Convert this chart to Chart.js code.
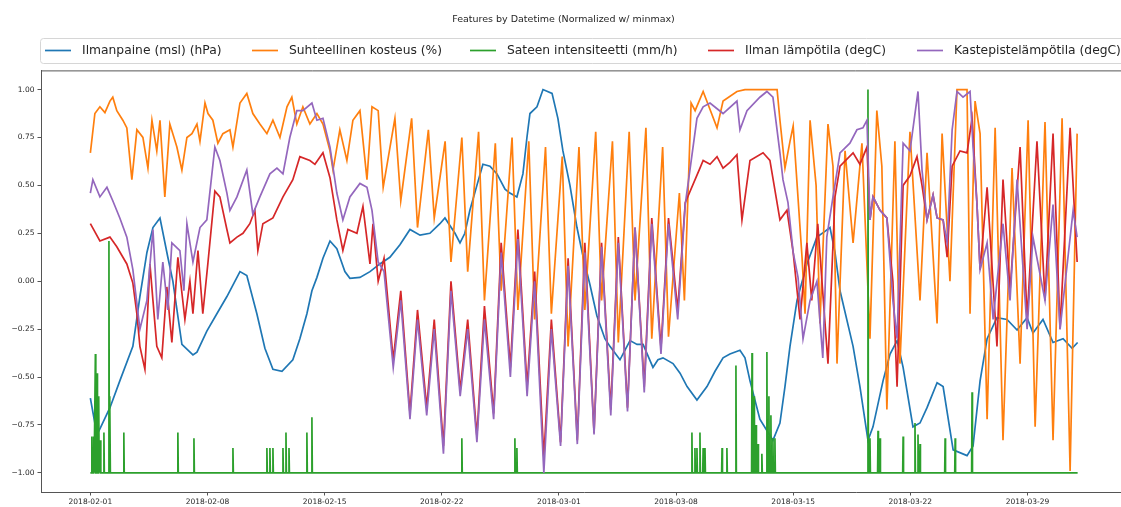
<!DOCTYPE html>
<html>
<head>
<meta charset="utf-8">
<script src="https://cdn.jsdelivr.net/npm/chart.js@4.4.1/dist/chart.umd.min.js"></script>
<style>
  html, body { margin: 0; padding: 0; background: #fff; overflow: hidden; }
  #wrap { width: 1121px; height: 507px; overflow: hidden; }
</style>
</head>
<body>
<div id="wrap"><canvas id="myChart1" width="1140" height="507"></canvas></div>
<script>
// days counted from 2018-02-01 00:00
let tickDays = [0, 7, 14, 21, 28, 35, 42, 49, 56];
let tickLabels = ['2018-02-01', '2018-02-08', '2018-02-15', '2018-02-22', '2018-03-01', '2018-03-08', '2018-03-15', '2018-03-22', '2018-03-29'];
let yTicks = [-1, -0.75, -0.5, -0.25, 0, 0.25, 0.5, 0.75, 1];
let labels = ['Ilmanpaine (msl) (hPa)', 'Suhteellinen kosteus (%)', 'Sateen intensiteetti (mm/h)', 'Ilman lämpötila (degC)', 'Kastepistelämpötila (degC)'];
let colorHex = ['#1f77b4', '#ff7f0e', '#2ca02c', '#d62728', '#9467bd'];

let pressureDays = [0, 0.39, 0.57, 1.17, 1.76, 2.54, 2.96, 3.38, 3.74, 4.16,
  4.63, 4.93, 5.47, 6.13, 6.37, 6.96, 7.56, 8.16, 8.94, 9.35,
  9.95, 10.43, 10.91, 11.45, 12.10, 12.52, 12.94, 13.24, 13.54, 13.9,
  14.32, 14.73, 14.91, 15.21, 15.51, 16.11, 16.71, 17.30, 17.90, 18.50,
  19.10, 19.70, 20.29, 20.89, 21.19, 21.79, 22.09, 22.38, 22.68, 23.10,
  23.46, 23.88, 24.30, 24.78, 25.07, 25.49, 25.85, 26.09, 26.27, 26.69,
  27.05, 27.59, 27.94, 28.24, 28.66, 29.08, 29.44, 29.86, 30.27, 30.75,
  31.05, 31.65, 31.95, 32.25, 32.67, 33.03, 33.62, 33.92, 34.22, 34.82,
  35.24, 35.66, 36.25, 36.85, 37.33, 37.81, 38.22, 38.82, 39.12, 39.42,
  40.01, 40.79, 41.21, 41.51, 41.81, 42.23, 42.82, 43.42, 43.90, 44.2,
  44.5, 44.8, 45.58, 45.99, 46.47, 46.77, 47.37, 47.79, 48.21, 48.57,
  49.16, 49.58, 50.0, 50.6, 50.96, 51.56, 52.39, 52.75, 53.17, 53.59,
  54.18, 54.78, 55.38, 55.98, 56.33, 56.93, 57.53, 58.13, 58.67, 59.0];
let pressureValues = [-0.61, -0.80, -0.77, -0.66, -0.52, -0.34, -0.08, 0.15, 0.28, 0.33,
  0.125, 0.0, -0.33, -0.385, -0.37, -0.26, -0.17, -0.08, 0.05, 0.03,
  -0.17, -0.35, -0.46, -0.47, -0.41, -0.30, -0.17, -0.05, 0.02, 0.12,
  0.21, 0.17, 0.125, 0.05, 0.015, 0.02, 0.05, 0.09, 0.125, 0.19,
  0.27, 0.24, 0.25, 0.30, 0.33, 0.25, 0.20, 0.25, 0.37, 0.50,
  0.61, 0.60, 0.56, 0.48, 0.46, 0.44, 0.56, 0.75, 0.875, 0.91,
  1.0, 0.98, 0.85, 0.68, 0.50, 0.28, 0.13, -0.02, -0.18, -0.30,
  -0.34, -0.41, -0.36, -0.31, -0.33, -0.33, -0.45, -0.41, -0.40, -0.43,
  -0.48, -0.55, -0.62, -0.55, -0.47, -0.40, -0.38, -0.36, -0.40, -0.52,
  -0.72, -0.83, -0.74, -0.55, -0.34, -0.10, 0.09, 0.23, 0.26, 0.28,
  0.15, -0.05, -0.34, -0.55, -0.83, -0.76, -0.52, -0.38, -0.31, -0.45,
  -0.76, -0.74, -0.66, -0.53, -0.55, -0.88, -0.91, -0.86, -0.52, -0.30,
  -0.19, -0.20, -0.255, -0.19, -0.27, -0.20, -0.32, -0.30, -0.35, -0.32];

let humidityDays = [0, 0.27, 0.57, 0.87, 1.17, 1.34, 1.58, 1.94, 2.18, 2.48, 2.78, 3.14, 3.44, 3.68, 3.97, 4.16, 4.45, 4.75,
  5.17, 5.47, 5.77, 6.07, 6.37, 6.55, 6.85, 7.03, 7.32, 7.62, 7.92, 8.34, 8.52, 8.94, 9.35, 9.71, 10.13, 10.55,
  10.91, 11.33, 11.75, 12.04, 12.34, 12.70, 13.12, 13.54, 13.9, 14.32, 14.5, 14.91, 15.33, 15.69, 16.11, 16.53, 16.83,
  17.2, 17.5, 18.2, 18.55, 19.2, 19.55, 20.2, 20.55, 21.2, 21.55, 22.2, 22.55, 23.2, 23.55, 24.2, 24.55, 25.2, 25.55,
  26.2, 26.55, 27.2, 27.55, 28.2, 28.55, 29.2, 29.55, 30.2, 30.55, 31.2, 31.55, 32.2, 32.55, 33.2, 33.55, 34.2, 34.55,
  35.2, 35.5, 35.9,
  36.14, 36.62, 37.45, 37.81, 38.64, 39.12, 41.04, 41.21, 41.51, 41.81, 42.0, 42.53, 42.71, 43.01, 43.37, 43.6,
  44.08, 44.38, 44.62, 45.1, 45.58, 46.11, 46.59, 47.0, 47.3, 47.6, 48.08, 48.38, 48.98, 49.58, 50.0, 50.6, 50.9,
  51.37, 51.79, 52.39, 52.57, 52.87, 53.17, 53.59, 54.07, 54.54, 55.08, 55.56, 56.04, 56.46, 57.05, 57.53, 58.07,
  58.55, 58.97];
let humidityValues = [0.67, 0.875, 0.91, 0.88, 0.94, 0.96, 0.89, 0.84, 0.80, 0.53, 0.79, 0.75, 0.59, 0.84, 0.68, 0.84, 0.44, 0.82,
  0.70, 0.58, 0.75, 0.77, 0.82, 0.73, 0.93, 0.875, 0.84, 0.72, 0.77, 0.79, 0.70, 0.93, 0.98, 0.875, 0.82, 0.77,
  0.84, 0.75, 0.91, 0.96, 0.82, 0.91, 0.82, 0.875, 0.82, 0.68, 0.58, 0.79, 0.63, 0.84, 0.89, 0.53, 0.91,
  0.89, 0.49, 0.85, 0.42, 0.85, 0.28, 0.79, 0.33, 0.73, 0.1, 0.75, 0.05, 0.78, -0.1, 0.72, -0.05, 0.75, -0.15,
  0.73, -0.2, 0.70, -0.17, 0.65, -0.34, 0.70, -0.15, 0.78, -0.1, 0.73, -0.32, 0.78, -0.1, 0.80, -0.3, 0.70, -0.29,
  0.46, -0.1, 0.93,
  0.89, 0.99, 0.80, 0.94, 0.99, 1.0, 1.0, 0.84, 0.59, 0.73, 0.81, 0.125, -0.17, 0.84, 0.5, -0.22,
  0.82, 0.6, -0.43, 0.68, 0.2, 0.72, -0.3, 0.89, 0.6, -0.67, 0.73, -0.43, 0.78, -0.1, 0.67, -0.22, 0.77,
  0.0, 1.0, 1.0, -0.17, 0.94, 0.77, -0.72, 0.80, -0.83, 0.59, -0.43, 0.84, -0.76, 0.83, -0.83, 0.85,
  -0.99, 0.77];

let rainDays = [0.09, 0.2, 0.3, 0.4, 0.5, 0.6, 0.81, 1.11, 1.17, 2.0, 5.23, 6.19, 8.52, 10.55, 10.73, 10.91, 11.51, 11.69,
  11.87, 12.94, 13.24, 22.2, 25.37, 25.49, 35.95, 36.13, 36.25, 36.43, 36.62, 36.73, 37.75, 38.04, 38.58, 39.54,
  39.66, 39.78, 39.9, 40.13, 40.43, 40.55, 40.67, 40.79, 40.91, 46.47, 46.59, 47.07, 47.19, 48.57, 49.28, 49.46,
  49.58, 51.08, 51.68, 52.69];
let rainValues = [-0.81, -0.81, -0.38, -0.48, -0.6, -0.83, -0.79, 0.21, -0.6, -0.79, -0.79, -0.82, -0.87, -0.87, -0.87, -0.87, -0.87, -0.79,
  -0.87, -0.79, -0.71, -0.82, -0.82, -0.87, -0.79, -0.87, -0.87, -0.79, -0.87, -0.87, -0.87, -0.87, -0.44, -0.375,
  -0.6, -0.75, -0.85, -0.9, -0.37, -0.6, -0.7, -0.82, -0.82, 1.0, -0.82, -0.78, -0.82, -0.81, -0.74, -0.8,
  -0.85, -0.82, -0.82, -0.58];

let tempDays = [0, 0.57, 1.17, 1.58, 2.18, 2.54, 2.78, 2.96, 3.26, 3.56, 3.74, 3.97, 4.27, 4.57, 4.87, 5.23, 5.65, 5.95,
  6.13, 6.43, 6.72, 7.02, 7.44, 7.74, 8.16, 8.34, 8.76, 9.12, 9.53, 9.83, 10.01, 10.31, 10.91, 11.51, 12.10, 12.52,
  13.12, 13.42, 13.9, 14.32, 14.73, 15.09, 15.39, 15.93, 16.29, 16.71, 16.89,
  17.2, 17.55, 18.1, 18.55, 19.1, 19.55, 20.1, 20.55, 21.1, 21.55, 22.1, 22.55, 23.1, 23.55, 24.1, 24.55, 25.1, 25.55,
  26.1, 26.55, 27.1, 27.55, 28.1, 28.55, 29.1, 29.55, 30.1, 30.55, 31.1, 31.55, 32.1, 32.55, 33.1, 33.55, 34.1, 34.55,
  35.1, 35.55,
  36.43, 36.62, 37.03, 37.45, 37.81, 38.22, 38.64, 38.94, 39.42, 40.2, 40.61, 41.21, 41.63, 42.0, 42.41, 42.82, 43.11,
  43.47, 44.08, 44.5, 44.8, 45.58, 45.99, 46.41, 46.59, 46.77, 47.19, 47.6, 47.96, 48.21, 48.57, 48.98, 49.4, 49.7,
  50.0, 50.36, 50.6, 50.96, 51.2, 51.5, 51.97, 52.39, 52.69, 52.98, 53.17, 53.59, 54.18, 54.54, 54.96, 55.56, 55.98,
  56.57, 57.05, 57.53, 57.95, 58.55, 58.97];
let tempValues = [0.30, 0.21, 0.23, 0.18, 0.09, -0.01, -0.17, -0.34, -0.46, 0.09, -0.10, -0.34, -0.40, -0.03, -0.32, 0.125, -0.20, 0.0,
  -0.17, 0.16, -0.17, 0.09, 0.47, 0.44, 0.27, 0.20, 0.23, 0.25, 0.30, 0.37, 0.16, 0.30, 0.33, 0.44, 0.53, 0.65,
  0.63, 0.61, 0.67, 0.54, 0.32, 0.16, 0.27, 0.25, 0.39, 0.09, 0.30,
  0.0, 0.12, -0.41, -0.05, -0.69, -0.15, -0.66, -0.2, -0.86, 0.0, -0.57, -0.2, -0.81, -0.13, -0.69, 0.2, -0.45, 0.27,
  -0.55, 0.05, -0.92, -0.2, -0.84, 0.12, -0.83, 0.2, -0.79, 0.2, -0.67, 0.23, -0.66, 0.28, -0.55, 0.33, -0.35, 0.33,
  -0.15, 0.41,
  0.59, 0.63, 0.61, 0.65, 0.59, 0.62, 0.66, 0.32, 0.63, 0.67, 0.63, 0.32, 0.37, 0.15, -0.20, 0.2, -0.1,
  0.3, -0.43, 0.44, 0.6, 0.67, 0.61, 0.70, 0.32, 0.44, 0.37, 0.33, 0.0, -0.55, 0.5, 0.55, 0.65, 0.5,
  0.32, 0.45, 0.33, 0.32, 0.125, 0.6, 0.68, 0.67, 0.85, 0.41, 0.06, 0.49, -0.34, 0.53, -0.05, 0.70, -0.2,
  0.73, -0.1, 0.77, -0.25, 0.80, 0.1];

let dewDays = [0, 0.15, 0.57, 0.99, 1.34, 1.76, 2.18, 2.54, 2.96, 3.38, 3.74, 4.03, 4.33, 4.63, 4.87, 5.35, 5.59, 5.77,
  6.13, 6.55, 6.96, 7.44, 7.74, 8.16, 8.34, 8.76, 9.35, 9.71, 10.13, 10.73, 11.15, 11.51, 11.92, 12.34, 12.70, 13.24,
  13.54, 13.9, 14.32, 14.73, 15.09, 15.51, 16.11, 16.53, 16.83,
  17.2, 17.55, 18.1, 18.55, 19.1, 19.55, 20.1, 20.55, 21.1, 21.55, 22.1, 22.55, 23.1, 23.55, 24.1, 24.55, 25.1, 25.55,
  26.1, 26.55, 27.1, 27.55, 28.1, 28.55, 29.1, 29.55, 30.1, 30.55, 31.1, 31.55, 32.1, 32.55, 33.1, 33.55, 34.1, 34.55,
  35.1, 35.55,
  36.25, 36.62, 37.03, 37.81, 38.64, 38.82, 39.24, 40.01, 40.43, 40.79, 41.21, 41.39, 41.69, 42.0, 42.29, 42.59, 43.01,
  43.42, 43.77, 44.01, 44.38, 44.8, 45.39, 45.81, 46.17, 46.41, 46.59, 46.77, 47.19, 47.6, 47.96, 48.21, 48.57, 48.98,
  49.46, 49.7, 50.0, 50.36, 50.6, 50.96, 51.2, 51.5, 51.79, 52.15, 52.57, 52.75, 52.98, 53.17, 53.59, 53.95, 54.54,
  54.96, 55.38, 55.98, 56.33, 57.05, 57.53, 57.95, 58.73, 58.97];
let dewValues = [0.46, 0.53, 0.44, 0.49, 0.42, 0.33, 0.23, 0.06, -0.25, -0.10, 0.27, -0.2, 0.1, -0.15, 0.20, 0.16, -0.05, 0.30,
  0.10, 0.28, 0.32, 0.70, 0.63, 0.46, 0.37, 0.44, 0.58, 0.35, 0.44, 0.56, 0.59, 0.56, 0.75, 0.89, 0.89, 0.93,
  0.84, 0.85, 0.70, 0.46, 0.32, 0.44, 0.51, 0.49, 0.37,
  0.1, 0.05, -0.45, -0.1, -0.72, -0.2, -0.7, -0.25, -0.9, -0.05, -0.6, -0.25, -0.84, -0.2, -0.72, 0.15, -0.5, 0.22,
  -0.6, 0.0, -1.0, -0.25, -0.86, 0.08, -0.85, 0.15, -0.8, 0.18, -0.7, 0.2, -0.68, 0.28, -0.58, 0.3, -0.38, 0.3,
  -0.2, 0.4,
  0.85, 0.91, 0.93, 0.875, 0.94, 0.79, 0.89, 0.96, 0.99, 0.96, 0.67, 0.53, 0.41, 0.15, 0.02, -0.3, -0.1,
  0.0, -0.4, 0.23, 0.44, 0.67, 0.72, 0.79, 0.80, 0.84, 0.32, 0.44, 0.37, 0.33, -0.1, -0.3, 0.72, 0.68,
  0.99, 0.58, 0.32, 0.45, 0.33, 0.32, 0.2, 0.79, 0.99, 0.96, 0.99, 0.7, 0.41, 0.06, 0.2, -0.2, 0.3,
  -0.1, 0.53, -0.25, 0.23, -0.1, 0.4, -0.25, 0.37, 0.23];

function toPoints(days, values) {
  let n = Math.min(days.length, values.length);
  let pts = [];
  for (let i = 0; i < n; i++) pts.push({x: days[i], y: values[i]});
  return pts;
}

// rain is zero (-1 after scaling) between the showers
function spikePoints(days, values) {
  let pts = [{x: 0, y: -1}];
  for (let i = 0; i < days.length; i++) {
    pts.push({x: days[i] - 0.025, y: -1}, {x: days[i], y: values[i]}, {x: days[i] + 0.025, y: -1});
  }
  pts.push({x: 59, y: -1});
  return pts;
}

const FONT = "'DejaVu Sans', sans-serif";

const legendBox = {
  id: 'legendBox',
  afterDraw(chart) {
    const c = chart.ctx;
    const starts = [45, 252, 470, 708, 917];
    c.save();
    c.beginPath();
    c.roundRect(40.5, 38.5, 1120, 25, 3);
    c.fillStyle = 'rgba(255,255,255,0.8)';
    c.fill();
    c.strokeStyle = '#d6d6d6';
    c.lineWidth = 1;
    c.stroke();
    c.font = '12.3px ' + FONT;
    c.textBaseline = 'middle';
    labels.forEach((lab, i) => {
      c.strokeStyle = colorHex[i];
      c.lineWidth = 1.7;
      c.beginPath();
      c.moveTo(starts[i], 50.5);
      c.lineTo(starts[i] + 26, 50.5);
      c.stroke();
      c.fillStyle = '#262626';
      c.fillText(lab, starts[i] + 37, 51);
    });
    c.restore();
  }
};

const topSpine = {
  id: 'topSpine',
  afterDraw(chart) {
    const a = chart.chartArea, c = chart.ctx;
    c.save();
    c.strokeStyle = '#555';
    c.lineWidth = 1;
    c.beginPath();
    c.moveTo(a.left, a.top + 0.5);
    c.lineTo(a.right, a.top + 0.5);
    c.stroke();
    c.restore();
  }
};

const series = [
  toPoints(pressureDays, pressureValues),
  toPoints(humidityDays, humidityValues),
  spikePoints(rainDays, rainValues),
  toPoints(tempDays, tempValues),
  toPoints(dewDays, dewValues)
];

let ctx = document.getElementById('myChart1').getContext('2d');

let myChart1 = new Chart(ctx, {
  type: 'line',
  data: {
    datasets: series.map((pts, i) => ({
      label: labels[i],
      data: pts,
      borderColor: colorHex[i],
      backgroundColor: colorHex[i],
      borderWidth: 1.7,
      pointRadius: 0,
      tension: 0,
      fill: false,
      order: 5 - i
    }))
  },
  options: {
    responsive: false,
    animation: false,
    events: [],
    layout: { padding: { left: 0, right: 13, top: 0, bottom: 0 } },
    plugins: {
      legend: { display: false },
      tooltip: { enabled: false },
      title: {
        display: true,
        text: 'Features by Datetime (Normalized w/ minmax)',
        color: '#262626',
        font: { family: FONT, size: 9.5, weight: 'normal' },
        padding: { top: 14, bottom: 45 }
      }
    },
    scales: {
      x: {
        type: 'linear',
        min: -2.95,
        max: 61.95,
        afterBuildTicks: (s) => { s.ticks = tickDays.map(v => ({ value: v })); },
        afterFit: (s) => { s.height = 15; },
        ticks: {
          autoSkip: false,
          maxRotation: 0,
          padding: 2,
          color: '#262626',
          font: { family: FONT, size: 7.5 },
          callback: (v, i) => tickLabels[i]
        },
        grid: { drawOnChartArea: false, drawTicks: true, tickLength: 3.5, color: '#555' },
        border: { display: true, color: '#555', width: 1 }
      },
      y: {
        min: -1.1,
        max: 1.1,
        afterBuildTicks: (s) => { s.ticks = yTicks.map(v => ({ value: v })); },
        afterFit: (s) => { s.width = 41; },
        ticks: {
          padding: 3,
          color: '#262626',
          font: { family: FONT, size: 7.5 },
          callback: (v) => (v < 0 ? '\u2212' : '') + Math.abs(v).toFixed(2)
        },
        grid: { drawOnChartArea: false, drawTicks: true, tickLength: 3.5, color: '#555' },
        border: { display: true, color: '#555', width: 1 }
      }
    }
  },
  plugins: [legendBox, topSpine]
});
</script>
</body>
</html>
